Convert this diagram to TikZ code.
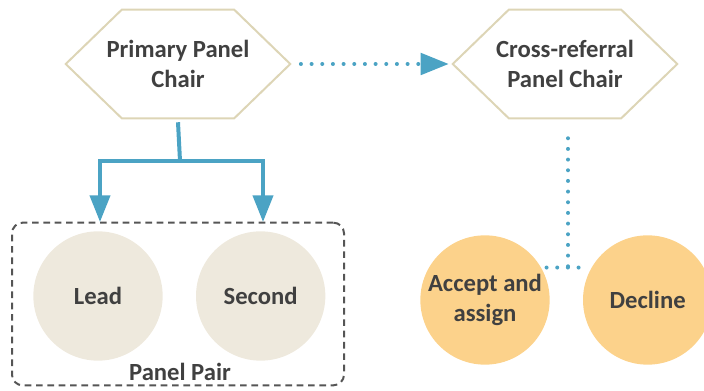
\documentclass[tikz,border=0pt]{standalone}
\usepackage{fontspec}
\setmainfont{Carlito}
\usetikzlibrary{arrows.meta}
\definecolor{flowblue}{HTML}{4BA3C4}
\definecolor{hexline}{HTML}{DDD5B6}
\definecolor{pairfill}{HTML}{EEE9DD}
\definecolor{choicefill}{HTML}{FCD28B}
\definecolor{labeltext}{HTML}{404040}
\definecolor{boxline}{HTML}{555555}

\begin{document}
\begin{tikzpicture}[x=0.75pt,y=-0.75pt,auto,node distance=122pt,
		font=\fontsize{18.5}{22.5}\selectfont\bfseries,text=labeltext,
		hex node/.style = {rectangle,inner sep=0pt,minimum width=168pt,minimum height=81pt,align=center},
		hex line/.style = {draw=hexline,line width=1.5pt,line join=miter},
		pair node/.style = {circle,fill=pairfill,minimum size=97pt,inner sep=0pt,align=center},
		choice node/.style = {circle,fill=choicefill,minimum size=97pt,inner sep=0pt,align=center},
		solid link/.style = {draw=flowblue,line width=3pt},
		dot link/.style = {draw=flowblue,line width=3pt,line cap=round,dash pattern=on 0pt off 8pt}]
		
		\useasboundingbox (0,0) rectangle (704,391);
		
		\node[hex node] (1) at (178,64) {Primary Panel\\Chair};
		\node[hex node] (2) at (565,64) {Cross-referral\\Panel Chair};
		\node[pair node] (3) at (98,296) {Lead};
		\node[pair node] [right of = 3] (4) {Second};
		\node[choice node] (5) at (485,300) {Accept and\\assign};
		\node[choice node] [right of = 5] (6) {Decline};
		\node[draw=boxline,line width=1.5pt,dash pattern=on 5pt off 3.5pt,rounded corners=8pt,
			minimum width=249pt,minimum height=122pt] (7) at (178,304) {};
		\node at (180,372) (8) {Panel Pair};
		\coordinate (9) at (180,161);
		\coordinate (10) at (568,268);
		
		% hexagon outlines
		\foreach \n in {1,2}
		\draw[hex line] (\n.west) -- ([xshift=42pt]\n.north west) -- ([xshift=-42pt]\n.north east)
		-- (\n.east) -- ([xshift=-42pt]\n.south east) -- ([xshift=42pt]\n.south west) -- cycle;
		
		\draw[solid link] ([yshift=-3pt]1.south) -- (9);
		\draw[solid link,-{Triangle[width=15pt,length=20pt]}] (9) -| (100,222);
		\draw[solid link,-{Triangle[width=15pt,length=20pt]}] (9) -| (263,222);
		\draw[dot link,-{Triangle[width=16pt,length=21pt]},shorten <=8pt,shorten >=3pt] (1.east) -- (2.west);
		\draw[dot link,shorten <=15pt] (2.south -| 10) -- (10);
		\draw[dot link,shorten <=4pt,shorten >=4pt] (5.30) -- (6.150);
	\end{tikzpicture}
\end{document}
